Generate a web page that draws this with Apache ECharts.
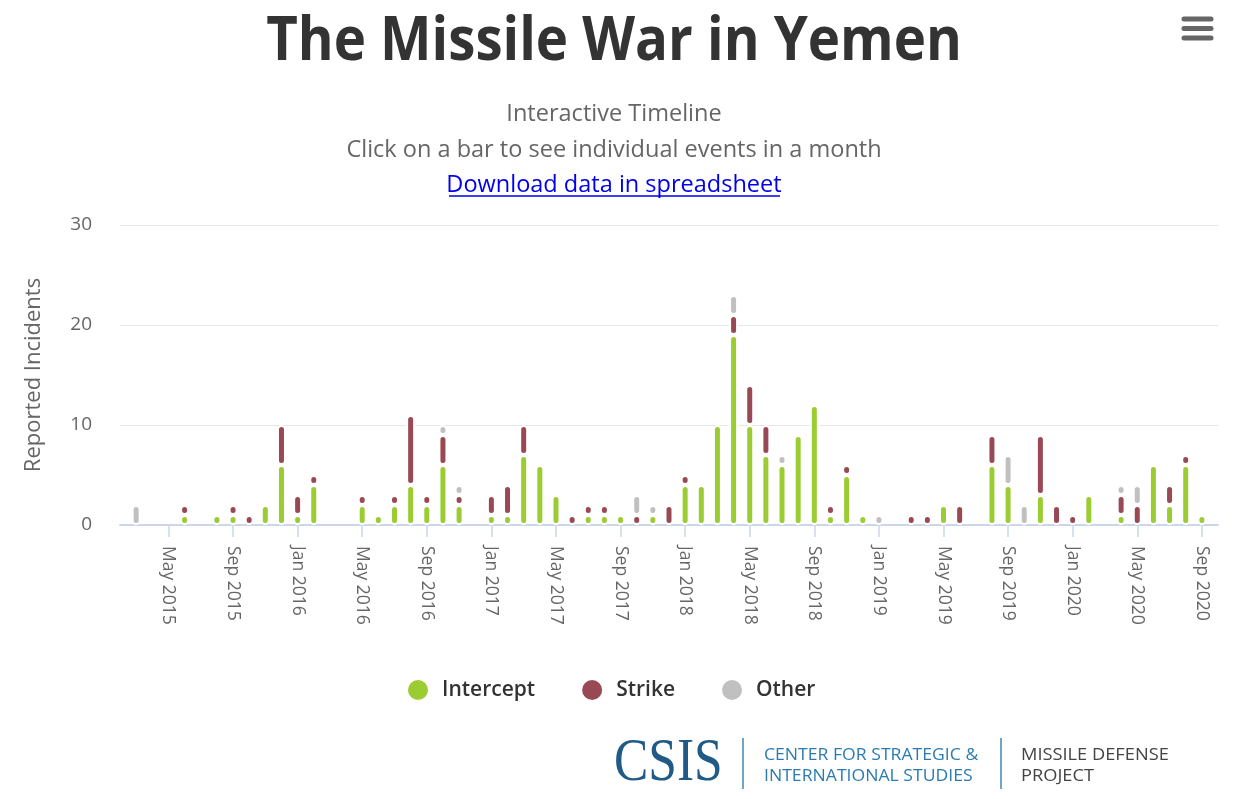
<!DOCTYPE html>
<html>
<head>
<meta charset="utf-8">
<script src="https://cdn.jsdelivr.net/npm/echarts@6/dist/echarts.min.js"></script>
<style>
  html, body { margin: 0; padding: 0; background: #fff; }
  #chart { width: 1249px; height: 799px; }
</style>
</head>
<body>
<div id="chart"></div>
<script>
// Monthly categories (one padding month at each end, as in the original's axis padding)
const months = [
  'Feb 2015','Mar 2015','Apr 2015','May 2015','Jun 2015','Jul 2015','Aug 2015','Sep 2015','Oct 2015','Nov 2015','Dec 2015',
  'Jan 2016','Feb 2016','Mar 2016','Apr 2016','May 2016','Jun 2016','Jul 2016','Aug 2016','Sep 2016','Oct 2016','Nov 2016','Dec 2016',
  'Jan 2017','Feb 2017','Mar 2017','Apr 2017','May 2017','Jun 2017','Jul 2017','Aug 2017','Sep 2017','Oct 2017','Nov 2017','Dec 2017',
  'Jan 2018','Feb 2018','Mar 2018','Apr 2018','May 2018','Jun 2018','Jul 2018','Aug 2018','Sep 2018','Oct 2018','Nov 2018','Dec 2018',
  'Jan 2019','Feb 2019','Mar 2019','Apr 2019','May 2019','Jun 2019','Jul 2019','Aug 2019','Sep 2019','Oct 2019','Nov 2019','Dec 2019',
  'Jan 2020','Feb 2020','Mar 2020','Apr 2020','May 2020','Jun 2020','Jul 2020','Aug 2020','Sep 2020','Oct 2020'
];

const intercept = [
  0,
  0,0,0,1,0,1,1,0,2,6,
  1,4,0,0,2,1,2,4,2,6,
  2,0,1,1,7,6,3,0,1,1,
  1,0,1,0,4,4,10,19,10,7,
  6,9,12,1,5,1,0,0,0,0,
  2,0,0,6,4,0,3,0,0,3,
  0,1,0,6,2,6,1,
  0
];
const strike = [
  0,
  0,0,0,1,0,0,1,1,0,4,
  2,1,0,0,1,0,1,7,1,3,
  1,0,2,3,3,0,0,1,1,1,
  0,1,0,2,1,0,0,2,4,3,
  0,0,0,1,1,0,0,0,1,1,
  0,2,0,3,0,0,6,2,1,0,
  0,2,2,0,2,1,0,
  0
];
const other = [
  0,
  2,0,0,0,0,0,0,0,0,0,
  0,0,0,0,0,0,0,0,0,1,
  1,0,0,0,0,0,0,0,0,0,
  0,2,1,0,0,0,0,2,0,0,
  1,0,0,0,0,0,1,0,0,0,
  0,0,0,0,3,2,0,0,0,0,
  0,1,2,0,0,0,0,
  0
];
const yTicks = [0, 10, 20, 30];
const seriesNames = ['Intercept', 'Strike', 'Other'];
const seriesColors = ['#9bcc32', '#994953', '#c0c0c0'];

const FONT = '"Open Sans", "Noto Sans", sans-serif';
const chart = echarts.init(document.getElementById('chart'), null, { renderer: 'canvas' });

function toData(arr) { return arr.map(v => (v === 0 ? null : v)); }

const barStyle = (color) => ({
  color: color,
  borderColor: '#ffffff',
  borderWidth: 2,
  borderRadius: 4.5
});

const option = {
  backgroundColor: '#ffffff',
  animation: false,
  textStyle: { fontFamily: FONT },
  grid: { left: 120, right: 31, top: 225, bottom: 274, containLabel: false },
  legend: {
    data: seriesNames,
    top: 673,
    left: 401,
    icon: 'circle',
    itemWidth: 22,
    itemHeight: 22,
    itemGap: 45,
    textStyle: { fontFamily: FONT, fontSize: 21, fontWeight: 600, color: '#333333', padding: [0, 0, 0, 8] }
  },
  xAxis: {
    type: 'category',
    data: months,
    boundaryGap: false,
    axisLine: { show: true, lineStyle: { color: '#ccd6eb', width: 2 } },
    axisTick: {
      show: true,
      length: 12,
      interval: (i) => (i - 3) % 4 === 0,
      lineStyle: { color: '#ccd6eb', width: 1.5 }
    },
    axisLabel: {
      interval: (i) => (i - 3) % 4 === 0,
      rotate: -90,
      margin: 21,
      fontFamily: FONT,
      fontSize: 17.5,
      color: '#666666'
    },
    splitLine: { show: false }
  },
  yAxis: {
    type: 'value',
    min: yTicks[0],
    max: yTicks[yTicks.length - 1],
    interval: 10,
    name: 'Reported Incidents',
    nameLocation: 'middle',
    nameRotate: 90,
    nameGap: 75,
    nameTextStyle: { fontFamily: FONT, fontSize: 22, color: '#666666' },
    axisLine: { show: false },
    axisTick: { show: false },
    axisLabel: { fontFamily: FONT, fontSize: 19, color: '#666666', margin: 28 },
    splitLine: { lineStyle: { color: '#e6e6e6', width: 1 } }
  },
  series: [
    { name: seriesNames[0], type: 'bar', stack: 'total', barWidth: 9, data: toData(intercept), itemStyle: barStyle(seriesColors[0]) },
    { name: seriesNames[1], type: 'bar', stack: 'total', barWidth: 9, data: toData(strike), itemStyle: barStyle(seriesColors[1]) },
    { name: seriesNames[2], type: 'bar', stack: 'total', barWidth: 9, data: toData(other), itemStyle: barStyle(seriesColors[2]) }
  ],
  graphic: [
    // Title
    { type: 'text', x: 614, y: 43, scaleX: 0.91, style: { text: 'The Missile War in Yemen', font: 'bold 60px ' + FONT, fill: '#333333', textAlign: 'center', textVerticalAlign: 'middle' } },
    // Subtitle lines
    { type: 'text', x: 614, y: 114, scaleX: 0.98, style: { text: 'Interactive Timeline', font: '24px ' + FONT, fill: '#666666', textAlign: 'center', textVerticalAlign: 'middle' } },
    { type: 'text', x: 614, y: 150, scaleX: 0.98, style: { text: 'Click on a bar to see individual events in a month', font: '24px ' + FONT, fill: '#666666', textAlign: 'center', textVerticalAlign: 'middle' } },
    { type: 'text', x: 614, y: 185, scaleX: 0.98, style: { text: 'Download data in spreadsheet', font: '24px ' + FONT, fill: '#0000ee', textAlign: 'center', textVerticalAlign: 'middle' } },
    { type: 'line', shape: { x1: 449, y1: 196, x2: 780, y2: 196 }, style: { stroke: '#0000ee', lineWidth: 1.5 } },
    // Menu (hamburger) icon
    { type: 'line', shape: { x1: 1184, y1: 19, x2: 1211, y2: 19 }, style: { stroke: '#666666', lineWidth: 5, lineCap: 'round' } },
    { type: 'line', shape: { x1: 1184, y1: 28.5, x2: 1211, y2: 28.5 }, style: { stroke: '#666666', lineWidth: 5, lineCap: 'round' } },
    { type: 'line', shape: { x1: 1184, y1: 38, x2: 1211, y2: 38 }, style: { stroke: '#666666', lineWidth: 5, lineCap: 'round' } },
    // CSIS footer logo
    { type: 'text', x: 614, y: 764, scaleX: 0.83, style: { text: 'CSIS', font: '62px "Liberation Serif", "DejaVu Serif", serif', fill: '#1f5b86', textAlign: 'left', textVerticalAlign: 'middle' } },
    { type: 'line', shape: { x1: 743, y1: 738, x2: 743, y2: 789 }, style: { stroke: '#3d87b5', lineWidth: 1.5 } },
    { type: 'text', x: 764, y: 755, scaleX: 1.1, style: { text: 'CENTER FOR STRATEGIC &', font: '16px ' + FONT, fill: '#2b7bb0', textAlign: 'left', textVerticalAlign: 'middle' } },
    { type: 'text', x: 764, y: 776, scaleX: 1.1, style: { text: 'INTERNATIONAL STUDIES', font: '16px ' + FONT, fill: '#2b7bb0', textAlign: 'left', textVerticalAlign: 'middle' } },
    { type: 'line', shape: { x1: 1001, y1: 738, x2: 1001, y2: 789 }, style: { stroke: '#3d87b5', lineWidth: 1.5 } },
    { type: 'text', x: 1021, y: 755, scaleX: 1.14, style: { text: 'MISSILE DEFENSE', font: '16px ' + FONT, fill: '#444444', textAlign: 'left', textVerticalAlign: 'middle' } },
    { type: 'text', x: 1021, y: 776, scaleX: 1.14, style: { text: 'PROJECT', font: '16px ' + FONT, fill: '#444444', textAlign: 'left', textVerticalAlign: 'middle' } }
  ]
};
chart.setOption(option);
</script>
</body>
</html>
